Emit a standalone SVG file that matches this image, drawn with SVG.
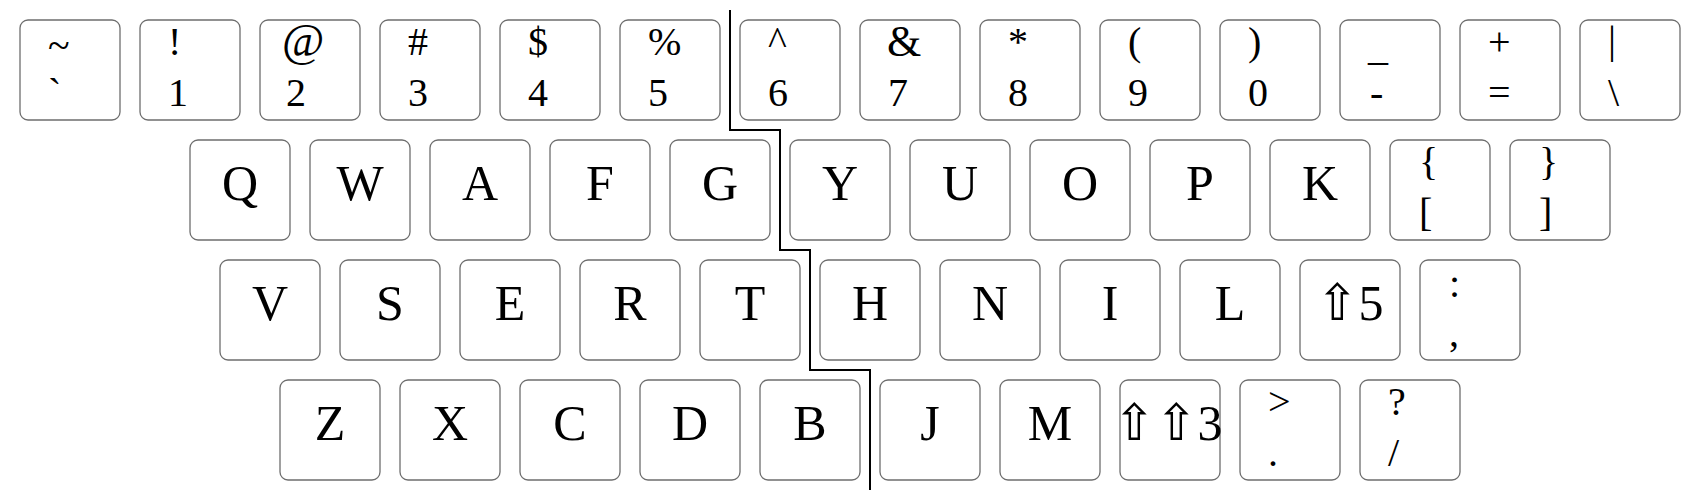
<svg xmlns="http://www.w3.org/2000/svg" width="1700" height="500" viewBox="0 0 1700 500">
<style>
.k{fill:#fff;stroke:#6e6e6e;stroke-width:1.3}
text{font-family:"Liberation Serif","DejaVu Sans",serif;fill:#000}
.s{font-size:40px}
.l{font-size:50px;text-anchor:middle}
.div{fill:none;stroke:#000;stroke-width:2}
</style>
<rect width="1700" height="500" fill="#fff"/>
<g id="row0">
<g id="key-tilde"><rect class="k" x="20" y="20" width="100" height="100" rx="8"/><text class="s" x="48" y="59">~</text><text class="s" x="48" y="106">`</text></g>
<g id="key-1"><rect class="k" x="140" y="20" width="100" height="100" rx="8"/><text class="s" x="168" y="55">!</text><text class="s" x="168" y="106">1</text></g>
<g id="key-2"><rect class="k" x="260" y="20" width="100" height="100" rx="8"/><text class="s" x="282" y="56" style="font-size:46px">@</text><text class="s" x="286" y="106">2</text></g>
<g id="key-3"><rect class="k" x="380" y="20" width="100" height="100" rx="8"/><text class="s" x="408" y="55">#</text><text class="s" x="408" y="106">3</text></g>
<g id="key-4"><rect class="k" x="500" y="20" width="100" height="100" rx="8"/><text class="s" x="528" y="55">$</text><text class="s" x="528" y="106">4</text></g>
<g id="key-5"><rect class="k" x="620" y="20" width="100" height="100" rx="8"/><text class="s" x="648" y="55">%</text><text class="s" x="648" y="106">5</text></g>
<g id="key-6"><rect class="k" x="740" y="20" width="100" height="100" rx="8"/><text class="s" x="768" y="55">^</text><text class="s" x="768" y="106">6</text></g>
<g id="key-7"><rect class="k" x="860" y="20" width="100" height="100" rx="8"/><text class="s" x="887" y="56" style="font-size:44px">&amp;</text><text class="s" x="888" y="106">7</text></g>
<g id="key-8"><rect class="k" x="980" y="20" width="100" height="100" rx="8"/><text class="s" x="1008" y="55">*</text><text class="s" x="1008" y="106">8</text></g>
<g id="key-9"><rect class="k" x="1100" y="20" width="100" height="100" rx="8"/><text class="s" x="1128" y="55">(</text><text class="s" x="1128" y="106">9</text></g>
<g id="key-0"><rect class="k" x="1220" y="20" width="100" height="100" rx="8"/><text class="s" x="1248" y="55">)</text><text class="s" x="1248" y="106">0</text></g>
<g id="key-minus"><rect class="k" x="1340" y="20" width="100" height="100" rx="8"/><text class="s" x="1368" y="60">_</text><text class="s" x="1370" y="106">-</text></g>
<g id="key-equal"><rect class="k" x="1460" y="20" width="100" height="100" rx="8"/><text class="s" x="1488" y="55">+</text><text class="s" x="1488" y="106">=</text></g>
<g id="key-backslash"><rect class="k" x="1580" y="20" width="100" height="100" rx="8"/><text class="s" x="1608" y="53">|</text><text class="s" x="1608" y="106">\</text></g>
</g>
<g id="row1">
<g id="key-Q"><rect class="k" x="190" y="140" width="100" height="100" rx="8"/><text class="l" x="240" y="200">Q</text></g>
<g id="key-W"><rect class="k" x="310" y="140" width="100" height="100" rx="8"/><text class="l" x="360" y="200">W</text></g>
<g id="key-A"><rect class="k" x="430" y="140" width="100" height="100" rx="8"/><text class="l" x="480" y="200">A</text></g>
<g id="key-F"><rect class="k" x="550" y="140" width="100" height="100" rx="8"/><text class="l" x="600" y="200">F</text></g>
<g id="key-G"><rect class="k" x="670" y="140" width="100" height="100" rx="8"/><text class="l" x="720" y="200">G</text></g>
<g id="key-Y"><rect class="k" x="790" y="140" width="100" height="100" rx="8"/><text class="l" x="840" y="200">Y</text></g>
<g id="key-U"><rect class="k" x="910" y="140" width="100" height="100" rx="8"/><text class="l" x="960" y="200">U</text></g>
<g id="key-O"><rect class="k" x="1030" y="140" width="100" height="100" rx="8"/><text class="l" x="1080" y="200">O</text></g>
<g id="key-P"><rect class="k" x="1150" y="140" width="100" height="100" rx="8"/><text class="l" x="1200" y="200">P</text></g>
<g id="key-K"><rect class="k" x="1270" y="140" width="100" height="100" rx="8"/><text class="l" x="1320" y="200">K</text></g>
<g id="key-lbrace"><rect class="k" x="1390" y="140" width="100" height="100" rx="8"/><text class="s" x="1419" y="175">{</text><text class="s" x="1419" y="226">[</text></g>
<g id="key-rbrace"><rect class="k" x="1510" y="140" width="100" height="100" rx="8"/><text class="s" x="1539" y="175">}</text><text class="s" x="1539" y="226">]</text></g>
</g>
<g id="row2">
<g id="key-V"><rect class="k" x="220" y="260" width="100" height="100" rx="8"/><text class="l" x="270" y="320">V</text></g>
<g id="key-S"><rect class="k" x="340" y="260" width="100" height="100" rx="8"/><text class="l" x="390" y="320">S</text></g>
<g id="key-E"><rect class="k" x="460" y="260" width="100" height="100" rx="8"/><text class="l" x="510" y="320">E</text></g>
<g id="key-R"><rect class="k" x="580" y="260" width="100" height="100" rx="8"/><text class="l" x="630" y="320">R</text></g>
<g id="key-T"><rect class="k" x="700" y="260" width="100" height="100" rx="8"/><text class="l" x="750" y="320">T</text></g>
<g id="key-H"><rect class="k" x="820" y="260" width="100" height="100" rx="8"/><text class="l" x="870" y="320">H</text></g>
<g id="key-N"><rect class="k" x="940" y="260" width="100" height="100" rx="8"/><text class="l" x="990" y="320">N</text></g>
<g id="key-I"><rect class="k" x="1060" y="260" width="100" height="100" rx="8"/><text class="l" x="1110" y="320">I</text></g>
<g id="key-L"><rect class="k" x="1180" y="260" width="100" height="100" rx="8"/><text class="l" x="1230" y="320">L</text></g>
<g id="key-shift5"><rect class="k" x="1300" y="260" width="100" height="100" rx="8"/><text class="l" x="1350" y="320">⇧5</text></g>
<g id="key-colon"><rect class="k" x="1420" y="260" width="100" height="100" rx="8"/><text class="s" x="1449" y="297">:</text><text class="s" x="1449" y="346">,</text></g>
</g>
<g id="row3">
<g id="key-Z"><rect class="k" x="280" y="380" width="100" height="100" rx="8"/><text class="l" x="330" y="440">Z</text></g>
<g id="key-X"><rect class="k" x="400" y="380" width="100" height="100" rx="8"/><text class="l" x="450" y="440">X</text></g>
<g id="key-C"><rect class="k" x="520" y="380" width="100" height="100" rx="8"/><text class="l" x="570" y="440">C</text></g>
<g id="key-D"><rect class="k" x="640" y="380" width="100" height="100" rx="8"/><text class="l" x="690" y="440">D</text></g>
<g id="key-B"><rect class="k" x="760" y="380" width="100" height="100" rx="8"/><text class="l" x="810" y="440">B</text></g>
<g id="key-J"><rect class="k" x="880" y="380" width="100" height="100" rx="8"/><text class="l" x="930" y="440">J</text></g>
<g id="key-M"><rect class="k" x="1000" y="380" width="100" height="100" rx="8"/><text class="l" x="1050" y="440">M</text></g>
<g id="key-shiftshift3"><rect class="k" x="1120" y="380" width="100" height="100" rx="8"/><text class="l" x="1168" y="440">⇧⇧3</text></g>
<g id="key-period"><rect class="k" x="1240" y="380" width="100" height="100" rx="8"/><text class="s" x="1268" y="415">&gt;</text><text class="s" x="1268" y="466">.</text></g>
<g id="key-slash"><rect class="k" x="1360" y="380" width="100" height="100" rx="8"/><text class="s" x="1388" y="415">?</text><text class="s" x="1388" y="466">/</text></g>
</g>
<g id="connectors">
<path class="div" d="M730,10 V130 H780 V250 H810 V370 H870 V490"/>
</g>
</svg>
